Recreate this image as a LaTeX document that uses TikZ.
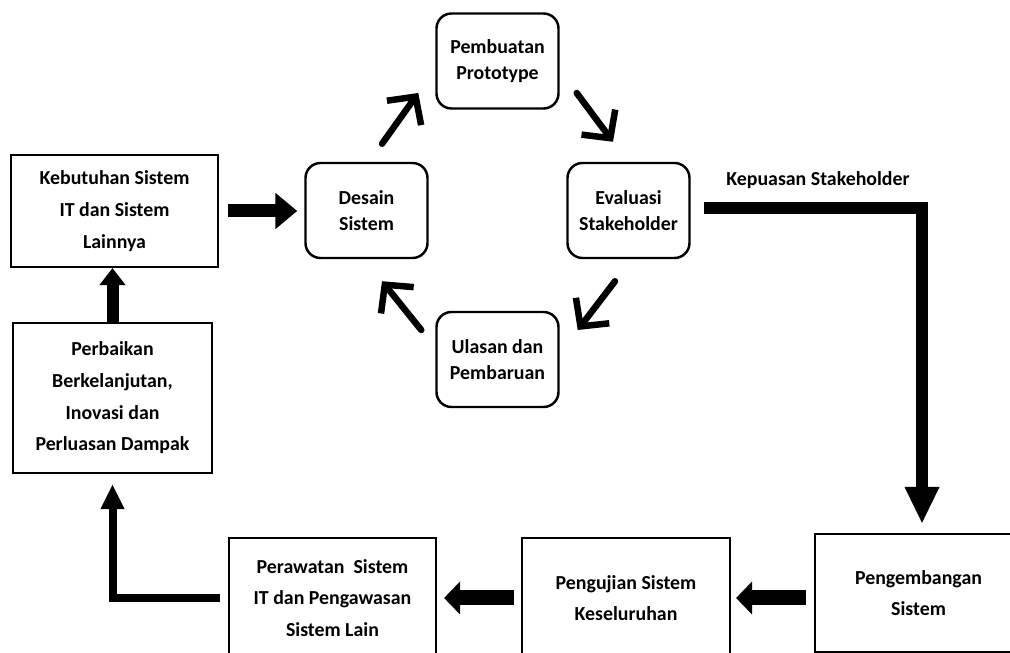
\documentclass[tikz,border=0pt]{standalone}
\usepackage{fontspec}
\setmainfont{Carlito}
\usetikzlibrary{positioning, arrows.meta}

\tikzset{
  sqbox/.style={draw, rectangle, line width=1.2pt, align=center, inner sep=0pt,
    font=\bfseries\fontsize{11.3}{18}\selectfont},
  rbox/.style={draw, rectangle, rounded corners=0.3cm, line width=1.4pt, align=center,
    minimum width=2.44cm, minimum height=1.9cm, inner sep=0pt,
    font=\bfseries\fontsize{11.3}{14.5}\selectfont},
  tag/.style={font=\bfseries\fontsize{11.3}{12}\selectfont},
  fatarrow/.style={line width=0.26cm, -{Triangle[length=0.44cm, width=0.7cm]}},
  slimarrow/.style={line width=0.16cm, -{Triangle[length=0.5cm, width=0.44cm]}},
  bendarrow/.style={line width=0.24cm, -{Triangle[length=0.74cm, width=0.64cm]}},
  cycarrow/.style={line width=0.13cm, line cap=round, -{Straight Barb[length=0.4cm, width=0.84cm]}}
}

\begin{document}
\begin{tikzpicture}
			\useasboundingbox (0,0) rectangle (20.2,-13.06);
			% left column
			\node[sqbox, minimum width=4.14cm, minimum height=2.24cm] (keb) at (2.29,-4.22) {Kebutuhan Sistem\\IT dan Sistem\\Lainnya};
			\node[sqbox, minimum width=3.98cm, minimum height=3cm, on grid, below=3.74cm of keb, xshift=-0.04cm] (perb) {Perbaikan\\Berkelanjutan,\\Inovasi dan\\Perluasan Dampak};
			% prototyping cycle
			\node[rbox] (desain) at (7.33,-4.21) {Desain\\Sistem};
			\node[rbox, on grid, above right=2.99cm and 2.62cm of desain] (proto) {Pembuatan\\Prototype};
			\node[rbox, on grid, right=5.24cm of desain] (eval) {Evaluasi\\Stakeholder};
			\node[rbox, on grid, below right=2.98cm and 2.62cm of desain] (ulasan) {Ulasan dan\\Pembaruan};
			\node[tag] (puas) at (16.36,-3.6) {Kepuasan Stakeholder};
			% bottom row
			\node[sqbox, minimum width=4.14cm, minimum height=2.4cm] (rawat) at (6.65,-11.96) {Perawatan\ \ Sistem\\IT dan Pengawasan\\Sistem Lain};
			\node[sqbox, minimum width=4.16cm, minimum height=2.4cm, on grid, right=5.87cm of rawat] (uji) {Pengujian Sistem\\Keseluruhan};
			\node[sqbox, minimum width=4.14cm, minimum height=2.36cm] (kembang) at (18.37,-11.86) {Pengembangan\\Sistem};
			\draw[cycarrow] ([xshift=0.31cm, yshift=0.36cm]desain.north) -- ([xshift=-0.34cm, yshift=-0.64cm]proto.west);
			\draw[cycarrow] ([xshift=0.34cm, yshift=-0.64cm]proto.east) -- ([xshift=-0.31cm, yshift=0.4cm]eval.north);
			\draw[cycarrow] ([xshift=-0.27cm, yshift=-0.44cm]eval.south) -- ([xshift=0.36cm, yshift=0.59cm]ulasan.east);
			\draw[cycarrow] ([xshift=-0.28cm, yshift=0.59cm]ulasan.west) -- ([xshift=0.31cm, yshift=-0.44cm]desain.south);
			\draw[fatarrow, shorten <=0.18cm, shorten >=0.14cm] (keb.east) -- (keb.east -| desain.west);
			\draw[bendarrow, shorten <=0.26cm, shorten >=0.18cm] ([yshift=0.05cm]eval.east) -| ([xshift=0.07cm]kembang.north);
			\draw[fatarrow, line width=0.3cm, -{Triangle[length=0.32cm, width=0.64cm]}, shorten <=0.16cm, shorten >=0.1cm] (kembang.west |- uji.east) -- (uji.east);
			\draw[fatarrow, line width=0.3cm, -{Triangle[length=0.32cm, width=0.64cm]}, shorten <=0.14cm, shorten >=0.14cm] (uji.west) -- (rawat.east);
			\draw[slimarrow, shorten <=0.16cm, shorten >=0.2cm] (rawat.west) -| (perb.south);
			\draw[fatarrow, line width=0.24cm, -{Triangle[length=0.34cm, width=0.5cm]}] (perb.north) -- (perb.north |- keb.south);
\end{tikzpicture}
\end{document}
